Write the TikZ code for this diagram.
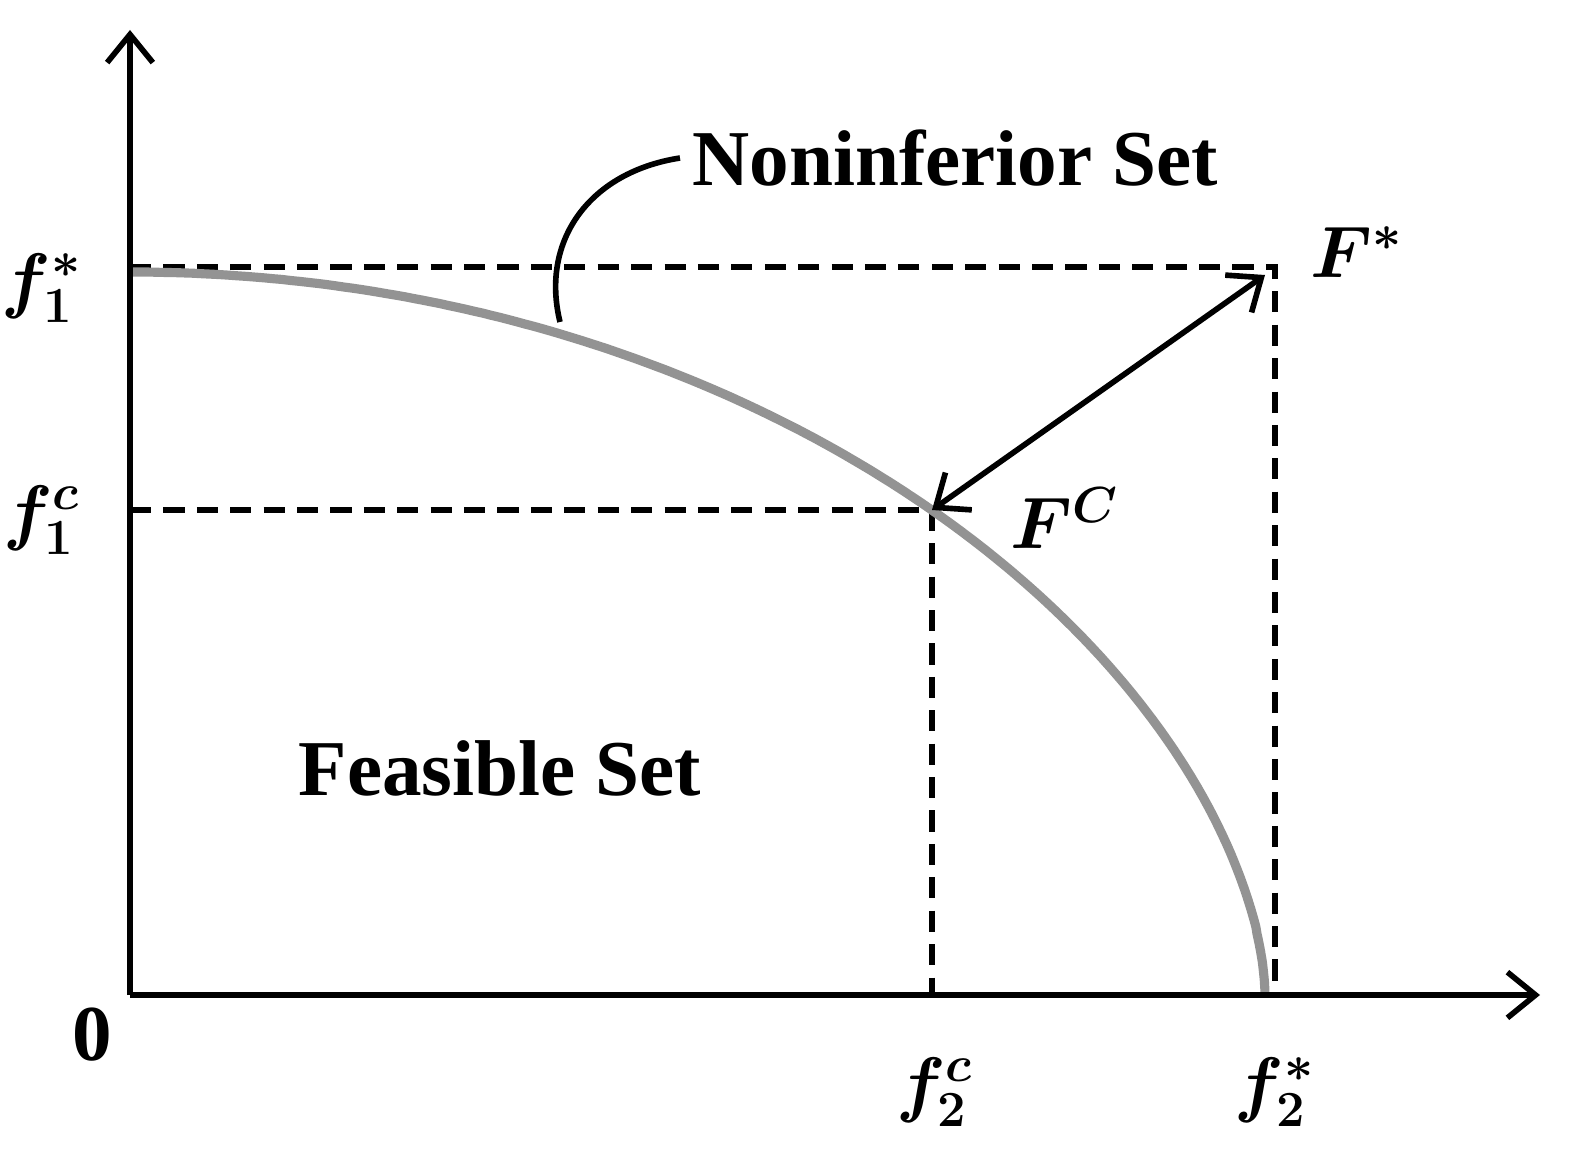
\documentclass[tikz,border=0pt]{standalone}
\usepackage{fontspec}
\setmainfont{Liberation Serif}
\usepackage{bm}
\usetikzlibrary{arrows.meta}
\begin{document}
\begin{tikzpicture}[x=0.01cm,y=-0.01cm,
 >={Straight Barb[length=8pt,width=13pt,line width=1.6pt]},
 ax/.style={line width=1.6pt,->},
 dsh/.style={line width=1.6pt,dash pattern=on 6pt off 3.5pt},
 lbl/.style={font=\fontsize{22.5}{27}\selectfont\bfseries},
 mth/.style={font=\fontsize{21}{25}\selectfont}]
\useasboundingbox (0,0) rectangle (1584,1161);
\coordinate (O) at (130,995);
\coordinate (ytop) at (130,30);
\coordinate (xr) at (1540,995);
\coordinate (Fs) at (1275,267);
\coordinate (Fc) at (932,510);
\coordinate (y1) at (130,267);
\coordinate (y2) at (130,510);
\coordinate (x1) at (932,995);
\coordinate (x2) at (1275,995);
\draw[dsh] (y1) -- (Fs) -- (x2);
\draw[dsh] (y2) -- (Fc) -- (x1);
\draw[gray!85,line width=2.6pt] plot[domain=0:90,samples=200] ({130+1135*sin(\x)},{995-723*(max(cos(\x),0.000001))^1.156});
\draw[ax] (O) -- (ytop);
\draw[ax] (O) -- (xr);
\draw[line width=1.6pt,<->] (Fc) -- (1265,275);
\node[lbl] (nis) at (955,158) {Noninferior Set};
\draw[line width=1.6pt] (nis.west) .. controls (590,172) and (540,240) .. (560,322);
\node[lbl] (fs) at (500,768) {Feasible Set};
\node[mth] (f1s) at (42,288) {$\bm{f_1^*}$};
\node[mth] (f1c) at (42,520) {$\bm{f_1^c}$};
\node[mth] (Fst) at (1357,252) {$\bm{F^*}$};
\node[mth] (FC) at (1065,518) {$\bm{F^C}$};
\node[mth] (f2c) at (935,1092) {$\bm{f_2^c}$};
\node[mth] (f2s) at (1275,1092) {$\bm{f_2^*}$};
\node[lbl] (zero) at (92,1035) {0};
\end{tikzpicture}
\end{document}
